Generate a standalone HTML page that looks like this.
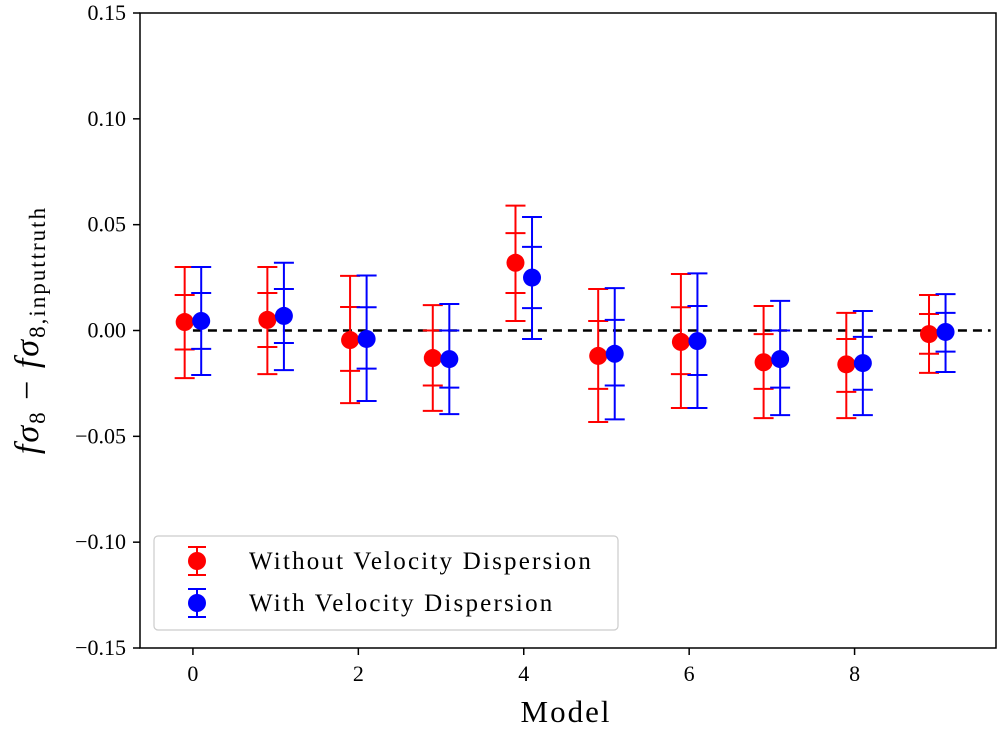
<!DOCTYPE html>
<html><head><meta charset="utf-8"><style>
body{margin:0;background:#fff;}
svg text{font-family:"Liberation Serif",serif;}
</style></head><body>
<svg id="chart" width="1000" height="730" xmlns="http://www.w3.org/2000/svg"></svg>
<script>
const models=[0,1,2,3,4,5,6,7,8,9];
const redCenter=[0.004,0.005,-0.0045,-0.013,0.032,-0.012,-0.0054,-0.015,-0.016,-0.0017];
const redInnerHi=[0.0168,0.0177,0.0111,0.0,0.046,0.0045,0.011,-0.0017,-0.004,0.0078];
const redInnerLo=[-0.009,-0.0078,-0.0191,-0.026,0.0177,-0.0276,-0.0206,-0.0276,-0.029,-0.011];
const redOuterHi=[0.030,0.030,0.0258,0.012,0.059,0.0196,0.0267,0.0116,0.0083,0.0168];
const redOuterLo=[-0.0225,-0.0206,-0.0343,-0.038,0.0045,-0.0432,-0.0366,-0.0414,-0.0414,-0.020];
const blueCenter=[0.0045,0.0069,-0.004,-0.0135,0.025,-0.011,-0.005,-0.0135,-0.0154,-0.0007];
const blueInnerHi=[0.0177,0.0196,0.011,0.0,0.0395,0.005,0.0116,0.0,-0.003,0.0083];
const blueInnerLo=[-0.0087,-0.0059,-0.018,-0.027,0.0106,-0.026,-0.021,-0.027,-0.028,-0.010];
const blueOuterHi=[0.030,0.032,0.026,0.0125,0.0536,0.020,0.027,0.014,0.0092,0.0172];
const blueOuterLo=[-0.021,-0.0187,-0.0333,-0.0395,-0.004,-0.042,-0.0366,-0.040,-0.040,-0.0196];
const yTicks=[0.15,0.10,0.05,0.00,-0.05,-0.10,-0.15];
const xTicks=[0,2,4,6,8];

const svg=document.getElementById('chart');
const NS='http://www.w3.org/2000/svg';
const L=140,R=996,T=13,B=648;
const xMin=-0.64,xMax=9.71,yMin=-0.15,yMax=0.15;
const X=v=>L+(v-xMin)/(xMax-xMin)*(R-L);
const Y=v=>B-(v-yMin)/(yMax-yMin)*(B-T);
function mk(tag,attrs,parent){const e=document.createElementNS(NS,tag);for(const k in attrs)e.setAttribute(k,attrs[k]);(parent||svg).appendChild(e);return e;}
function fmt(v){const s=Math.abs(v).toFixed(2);return (v<0?'\u2212':'')+s;}

yTicks.forEach(v=>{
 const t=mk('line',{x1:L-7,x2:L,y1:Y(v),y2:Y(v),stroke:'#000','stroke-width':1.5});
 
 
 const tx=mk('text',{x:L-14,y:Y(v)+7,'text-anchor':'end','font-size':22});
 tx.textContent=fmt(v);
 
 
});
xTicks.forEach(v=>{
 const t=mk('line',{x1:X(v),x2:X(v),y1:B,y2:B+7,stroke:'#000','stroke-width':1.5});
 
 
 const tx=mk('text',{x:X(v),y:B+33,'text-anchor':'middle','font-size':22});
 tx.textContent=v;
 
 
});

const z=mk('line',{x1:X(0),x2:X(9.5)+12,y1:Y(0),y2:Y(0),stroke:'#000','stroke-width':2.5,'stroke-dasharray':'9,6'});



function series(cx,c,ih,il,oh,ol,off,color,name){
 cx.forEach((m,i)=>{
  const g=mk('g',{});
  
  
  const x=X(m+off);
  mk('line',{x1:x,x2:x,y1:Y(oh[i]),y2:Y(ol[i]),stroke:color,'stroke-width':2},g);
  [oh[i],ol[i],ih[i],il[i]].forEach(v=>mk('line',{x1:x-10,x2:x+10,y1:Y(v),y2:Y(v),stroke:color,'stroke-width':2},g));
  mk('circle',{cx:x,cy:Y(c[i]),r:9,fill:color},g);
 });
}
series(models,redCenter,redInnerHi,redInnerLo,redOuterHi,redOuterLo,-0.1,'#ff0000','without-dispersion');
series(models,blueCenter,blueInnerHi,blueInnerLo,blueOuterHi,blueOuterLo,0.1,'#0000ff','with-dispersion');

const fr=mk('rect',{x:L,y:T,width:R-L,height:B-T,fill:'none',stroke:'#000','stroke-width':1.5});



const lg=mk('g',{});


mk('rect',{x:154,y:536,width:464,height:94,rx:4,fill:'#fff','fill-opacity':0.85,stroke:'#ccc','stroke-width':1.2},lg);
[[561,'#ff0000','Without Velocity Dispersion'],[603,'#0000ff','With Velocity Dispersion']].forEach(([y,col,lab])=>{
 const e=mk('g',{},lg);
 
 
 mk('line',{x1:197,x2:197,y1:y-14,y2:y+14,stroke:col,'stroke-width':2},e);
 mk('line',{x1:188,x2:206,y1:y-14,y2:y-14,stroke:col,'stroke-width':2},e);
 mk('line',{x1:188,x2:206,y1:y+14,y2:y+14,stroke:col,'stroke-width':2},e);
 mk('circle',{cx:197,cy:y,r:9,fill:col},e);
 const t=mk('text',{x:249,y:y+8,'font-size':25,'letter-spacing':2.2},e);t.textContent=lab;
});

const xl=mk('text',{x:566,y:722,'text-anchor':'middle','font-size':31,'letter-spacing':2});
xl.textContent='Model';


const yl=mk('text',{x:0,y:0,'text-anchor':'middle','font-size':34,'letter-spacing':2,transform:'translate(38,330) rotate(-90)'});
yl.innerHTML='<tspan font-style="italic">f</tspan><tspan font-style="italic">σ</tspan><tspan font-size="23" dy="7">8</tspan><tspan dy="-7"> − </tspan><tspan font-style="italic">f</tspan><tspan font-style="italic">σ</tspan><tspan font-size="23" dy="7">8,inputtruth</tspan>';


</script>
</body></html>
